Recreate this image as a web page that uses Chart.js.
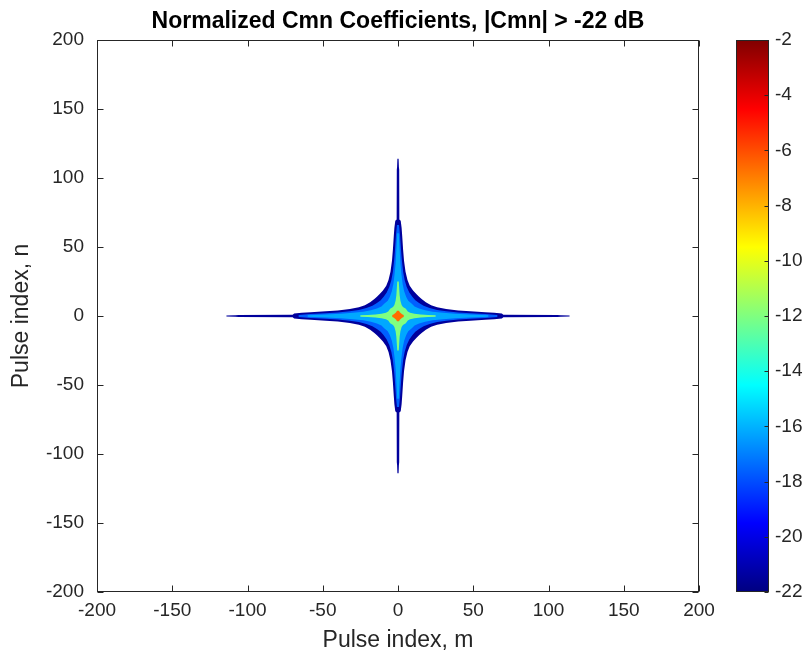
<!DOCTYPE html>
<html>
<head>
<meta charset="utf-8">
<script src="https://cdn.jsdelivr.net/npm/chart.js@4.4.1/dist/chart.umd.min.js"></script>
<style>
  html, body { margin: 0; padding: 0; background: #fff; }
  #wrap { position: relative; width: 811px; height: 660px; }
  #main { position: absolute; left: 0; top: 0; }
  #cbar { position: absolute; left: 720px; top: 0; }
</style>
</head>
<body>
<div id="wrap">
  <canvas id="main" width="811" height="660"></canvas>
  <canvas id="cbar" width="91" height="660"></canvas>
</div>
<script>
Chart.defaults.font.family = "'Liberation Sans', Arial, sans-serif";
Chart.defaults.color = '#262626';

// axis ticks
const xTicks = [-200, -150, -100, -50, 0, 50, 100, 150, 200];
const yTicks = [-200, -150, -100, -50, 0, 50, 100, 150, 200];
const cbTicks = [-22, -20, -18, -16, -14, -12, -10, -8, -6, -4, -2];

// contour levels (dB) of the filled bands, outermost first
const levels = [-22, -20, -18, -12, -6];

// arm outline of each level: [distance along arm, half width], tip -> diagonal
const arm22 = [[114, 0.4], [108, 0.6], [106, 0.8], [70, 0.9], [69, 1.8], [64, 2.4], [58, 2.8], [48, 3.4], [40, 4], [32, 5], [26, 6.3], [22, 7.8], [18.5, 10], [15.5, 12.5], [14, 14]];
const arm20 = [[66, 0.7], [58, 1.4], [48, 2], [40, 2.6], [32, 3.4], [26, 4.4], [21, 5.8], [17, 7.5], [14, 9.5], [11.5, 11.5]];
const arm18 = [[60, 0.5], [48, 1.1], [38, 1.6], [30, 2.3], [23, 3.1], [18, 4.1], [14, 5.4], [11, 6.8], [9, 9]];
const arm12 = [[25, 0.5], [20, 0.8], [15, 1.1], [11, 1.6], [8, 2.4], [6.5, 3.3], [5.2, 5.2]];
const arm6 = [[3.8, 0.7], [2.7, 1.2], [2, 2]];

const arms = [arm22, arm20, arm18, arm12, arm6];
const bandColors = ['#00009C', '#0060FF', '#00A8FF', '#80FF80', '#FF6A00'];

// closed outline of a four-armed star from one arm profile (same shape in every quadrant)
function starPolygon(profile) {
  const quad = profile.concat(profile.slice(0, -1).reverse().map(([d, w]) => [w, d]));
  const pts = [];
  quad.forEach(([a, b]) => pts.push({ x: a, y: b }));
  quad.slice().reverse().forEach(([a, b]) => pts.push({ x: -a, y: b }));
  quad.forEach(([a, b]) => pts.push({ x: -a, y: -b }));
  quad.slice().reverse().forEach(([a, b]) => pts.push({ x: a, y: -b }));
  return pts;
}

// fill each dataset's points as a polygon (pixel positions come from the chart's scales)
const polyFill = {
  id: 'polyFill',
  afterDatasetsDraw(chart) {
    const { ctx, chartArea: a } = chart;
    ctx.save();
    ctx.beginPath();
    ctx.rect(a.left, a.top, a.right - a.left, a.bottom - a.top);
    ctx.clip();
    chart.data.datasets.forEach((ds, i) => {
      const pts = chart.getDatasetMeta(i).data;
      ctx.beginPath();
      pts.forEach((p, k) => k ? ctx.lineTo(p.x, p.y) : ctx.moveTo(p.x, p.y));
      ctx.closePath();
      ctx.fillStyle = ds.backgroundColor;
      ctx.fill();
    });
    ctx.restore();
  }
};

// MATLAB-style box with inward ticks on all four sides
const boxTicks = {
  id: 'boxTicks',
  afterDraw(chart) {
    const { ctx, chartArea: a, scales } = chart;
    const L = Math.round(a.left) + 0.5, R = Math.round(a.right) - 0.5;
    const T = Math.round(a.top) + 0.5, B = Math.round(a.bottom) - 0.5;
    ctx.save();
    ctx.strokeStyle = '#262626';
    ctx.lineWidth = 1;
    ctx.strokeRect(L, T, R - L, B - T);
    ctx.beginPath();
    xTicks.forEach(v => {
      const x = Math.round(scales.x.getPixelForValue(v)) + 0.5;
      ctx.moveTo(x, B); ctx.lineTo(x, B - 6);
      ctx.moveTo(x, T); ctx.lineTo(x, T + 6);
    });
    yTicks.forEach(v => {
      const y = Math.round(scales.y.getPixelForValue(v)) + 0.5;
      ctx.moveTo(L, y); ctx.lineTo(L + 6, y);
      ctx.moveTo(R, y); ctx.lineTo(R - 6, y);
    });
    ctx.stroke();
    ctx.restore();
  }
};

new Chart(document.getElementById('main'), {
  type: 'scatter',
  data: {
    datasets: arms.map((arm, i) => ({
      label: levels[i] + ' dB',
      data: starPolygon(arm),
      backgroundColor: bandColors[i],
      pointRadius: 0,
      showLine: false
    }))
  },
  options: {
    responsive: false,
    animation: false,
    events: [],
    layout: { padding: { left: 0, right: 112, top: 0, bottom: 0 } },
    plugins: {
      legend: { display: false },
      tooltip: { enabled: false },
      title: {
        display: true,
        fullSize: false,
        text: 'Normalized Cmn Coefficients, |Cmn| > -22 dB',
        color: '#000',
        font: { size: 23, weight: 'bold' },
        padding: { top: 8, bottom: 4.4 }
      }
    },
    scales: {
      x: {
        min: -200, max: 200,
        afterBuildTicks: s => { s.ticks = xTicks.map(v => ({ value: v })); },
        afterFit: s => { s.height = 68; },
        grid: { display: true, drawOnChartArea: false, drawTicks: false },
        border: { display: false },
        ticks: { font: { size: 19 }, color: '#262626', padding: 7, maxRotation: 0 },
        title: { display: true, text: 'Pulse index, m', font: { size: 23 }, color: '#262626', padding: { top: 0, bottom: 6 } }
      },
      y: {
        min: -200, max: 200,
        afterBuildTicks: s => { s.ticks = yTicks.map(v => ({ value: v })); },
        afterFit: s => { s.width = 97; },
        grid: { display: true, drawOnChartArea: false, drawTicks: false },
        border: { display: false },
        ticks: { font: { size: 19 }, color: '#262626', padding: 13 },
        title: { display: true, text: 'Pulse index, n', font: { size: 23 }, color: '#262626', padding: { top: 8, bottom: 0 } }
      }
    }
  },
  plugins: [polyFill, boxTicks]
});

// ---- colorbar ----
function jetGradient(chart) {
  const a = chart.chartArea;
  if (!a) return '#00008F';
  const g = chart.ctx.createLinearGradient(0, a.bottom, 0, a.top);
  g.addColorStop(0, '#000080');
  g.addColorStop(0.125, '#0000FF');
  g.addColorStop(0.375, '#00FFFF');
  g.addColorStop(0.625, '#FFFF00');
  g.addColorStop(0.875, '#FF0000');
  g.addColorStop(1, '#800000');
  return g;
}

const cbBox = {
  id: 'cbBox',
  afterDraw(chart) {
    const { ctx, chartArea: a, scales } = chart;
    const L = Math.round(a.left) + 0.5, R = Math.round(a.right) - 0.5;
    const T = Math.round(a.top) + 0.5, B = Math.round(a.bottom) - 0.5;
    ctx.save();
    ctx.strokeStyle = '#262626';
    ctx.lineWidth = 1;
    ctx.strokeRect(L, T, R - L, B - T);
    ctx.beginPath();
    cbTicks.forEach(v => {
      const y = Math.round(scales.y.getPixelForValue(v)) + 0.5;
      ctx.moveTo(R, y); ctx.lineTo(R - 4, y);
    });
    ctx.stroke();
    ctx.restore();
  }
};

new Chart(document.getElementById('cbar'), {
  type: 'bar',
  data: {
    labels: [''],
    datasets: [{
      data: [[cbTicks[0], cbTicks[cbTicks.length - 1]]],
      backgroundColor: ctx => jetGradient(ctx.chart),
      borderWidth: 0,
      barPercentage: 1,
      categoryPercentage: 1
    }]
  },
  options: {
    responsive: false,
    animation: false,
    events: [],
    layout: { padding: { left: 16, right: 0, top: 40, bottom: 68 } },
    plugins: { legend: { display: false }, tooltip: { enabled: false } },
    scales: {
      x: { display: false },
      y: {
        position: 'right',
        min: -22, max: -2,
        afterBuildTicks: s => { s.ticks = cbTicks.map(v => ({ value: v })); },
        afterFit: s => { s.width = 42; },
        grid: { display: true, drawOnChartArea: false, drawTicks: false },
        border: { display: false },
        ticks: { font: { size: 19 }, color: '#262626', padding: 6 }
      }
    }
  },
  plugins: [cbBox]
});
</script>
</body>
</html>
